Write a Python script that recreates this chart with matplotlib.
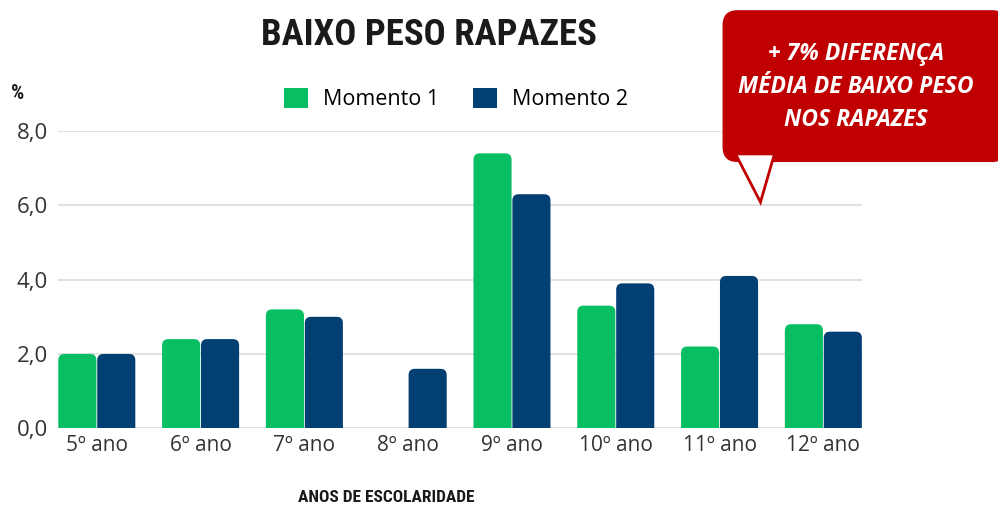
import numpy as np
import matplotlib.pyplot as plt
from matplotlib.patches import FancyBboxPatch, Patch, Polygon

anos = ["5º ano", "6º ano", "7º ano", "8º ano", "9º ano", "10º ano", "11º ano", "12º ano"]
momento1 = [2.0, 2.4, 3.2, None, 7.4, 3.3, 2.2, 2.8]
momento2 = [2.0, 2.4, 3.0, 1.6, 6.3, 3.9, 4.1, 2.6]
series = ["Momento 1", "Momento 2"]
cores = ["#07BE62", "#023F73"]
yticks = [0, 2, 4, 6, 8]

tick_font = ["Open Sans", "DejaVu Sans"]
cond_font = ["Roboto Condensed", "Liberation Sans Narrow", "DejaVu Sans Condensed",
             "Oswald", "Roboto", "DejaVu Sans"]

fig = plt.figure(figsize=(9.98, 5.08), dpi=100)
ax = fig.add_axes([0.058, 0.157, 0.806, 0.585])

w = 0.375
x = np.arange(len(anos))
for i, vals in enumerate([momento1, momento2]):
    for xi, v in zip(x, vals):
        if v is None:
            continue
        left = xi - w + i * w
        p = FancyBboxPatch((left + 0.004, -0.5), w - 0.008, v + 0.5,
                           boxstyle="round,pad=0,rounding_size=0.06",
                           mutation_aspect=2.8, facecolor=cores[i],
                           edgecolor="none", zorder=3)
        ax.add_patch(p)

ax.set_xlim(-w, len(anos) - 1 + w)
ax.set_ylim(0, 8)
ax.set_yticks(yticks)
ax.yaxis.set_major_formatter(plt.FuncFormatter(lambda v, _: ("%.1f" % v).replace(".", ",")))
ax.set_xticks(x)
ax.set_xticklabels(anos)
for s in ax.spines.values():
    s.set_visible(False)
ax.grid(axis="y", color="#dddddd", linewidth=1.2, zorder=0)
ax.set_axisbelow(True)
ax.tick_params(length=0, labelsize=15, colors="#333333", pad=5)
ax.tick_params(axis="y", labelsize=16, pad=7)
for lab in ax.get_xticklabels() + ax.get_yticklabels():
    lab.set_family(tick_font)

fig.text(0.387, 1 - 497 / 508, "ANOS DE ESCOLARIDADE", ha="center", va="center",
         family=cond_font, fontweight="bold", fontsize=12.5, color="#1a1a1a")

handles = [Patch(facecolor=c, edgecolor="none") for c in cores]
fig.legend(handles, series, loc="center", bbox_to_anchor=(0.457, 0.805), ncol=2,
           frameon=False, prop={"family": tick_font, "size": 15.5},
           handlelength=1.1, handleheight=1.1, columnspacing=1.6, handletextpad=0.7)

fig.text(0.43, 0.932, "BAIXO PESO RAPAZES", ha="center", va="center",
         family=cond_font, fontweight="heavy", fontsize=26.5, color="#1a1a1a")
fig.text(0.011, 0.815, "%", ha="left", va="center", fontweight="bold",
         fontsize=15, color="#1a1a1a", family=cond_font)

# caixa de destaque
box = FancyBboxPatch((0.724, 0.681), 0.285, 0.299, transform=fig.transFigure,
                     boxstyle="round,pad=0,rounding_size=0.015",
                     mutation_aspect=2.0, facecolor="#C00000", edgecolor="none")
fig.patches.append(box)
tri = Polygon([(0.737, 0.697), (0.776, 0.697), (0.762, 0.602)], closed=True,
              transform=fig.transFigure, facecolor="white", edgecolor="#C00000", linewidth=2)
fig.patches.append(tri)
fig.text(0.858, 0.829, "+ 7% DIFERENÇA\nMÉDIA DE BAIXO PESO\nNOS RAPAZES", ha="center",
         va="center", color="white", fontweight="bold", fontstyle="italic",
         fontsize=16.5, family="Open Sans", linespacing=1.5)

fig.savefig("out.png", dpi=100)
